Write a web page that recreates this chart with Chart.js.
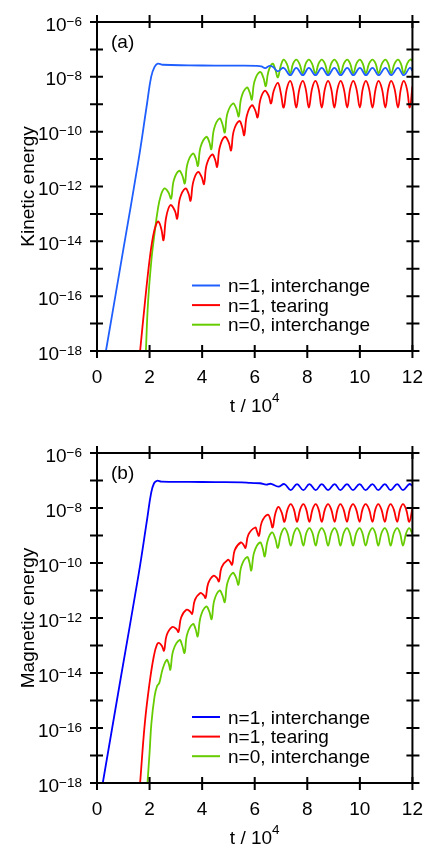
<!DOCTYPE html>
<html>
<script src="https://cdn.jsdelivr.net/npm/chart.js"></script>
<style type="text/css">
  body { margin: 0; background: #fff; }
  .panel { position: absolute; left: 0; }
  canvas { display: block; }
</style>
<body>
  <div class="panel" style="top:0px"><canvas id="kinetic" width="438" height="420"></canvas></div>
  <div class="panel" style="top:420px"><canvas id="magnetic" width="438" height="425"></canvas></div>

  <script>
    // values are [t / 10^4, log10(energy)]
    const seriesLabels = ['n=1, interchange', 'n=1, tearing', 'n=0, interchange'];
    const yExponents = [-18, -17, -16, -15, -14, -13, -12, -11, -10, -9, -8, -7, -6];
    const yLabelExponents = [-18, -16, -14, -12, -10, -8, -6];

    // (a) kinetic energy
    const kineticN1Interchange = [[0.34,-18],[1.0,-14.3],[1.58,-11.04],[1.9,-9.0],[2.06,-8.0],[2.19,-7.64],[2.31,-7.52],[2.5,-7.56],[3.5,-7.58],[4.5,-7.59],[5.5,-7.59],[6.08,-7.6],[6.25,-7.62],[6.4,-7.68],[6.56,-7.6],[6.7,-7.64],[6.88,-7.8],[7.1,-7.67],[7.35,-7.94],[7.58,-7.67],[7.83,-7.94],[8.06,-7.67],[8.31,-7.94],[8.55,-7.67],[8.79,-7.94],[9.03,-7.67],[9.27,-7.94],[9.52,-7.67],[9.75,-7.94],[10.0,-7.67],[10.23,-7.94],[10.48,-7.67],[10.71,-7.94],[10.97,-7.67],[11.19,-7.94],[11.45,-7.67],[11.67,-7.94],[11.9,-7.67],[12.0,-7.78]];
    const kineticN1Tearing = [[1.64,-18],[1.82,-16.26],[2.0,-14.68],[2.13,-13.83],[2.25,-13.38],[2.34,-13.28],[2.45,-13.56],[2.53,-13.96],[2.63,-13.13],[2.79,-12.68],[2.96,-12.88],[3.05,-13.17],[3.15,-12.45],[3.36,-12.07],[3.48,-12.25],[3.56,-12.52],[3.66,-11.84],[3.84,-11.47],[3.98,-11.65],[4.07,-11.91],[4.17,-11.21],[4.38,-10.83],[4.49,-11.01],[4.57,-11.28],[4.67,-10.57],[4.86,-10.19],[5.01,-10.39],[5.1,-10.68],[5.2,-9.98],[5.41,-9.61],[5.52,-9.82],[5.6,-10.13],[5.7,-9.42],[5.89,-9.04],[6.02,-9.22],[6.11,-9.48],[6.21,-8.85],[6.38,-8.51],[6.53,-8.69],[6.62,-8.97],[6.72,-8.52],[6.88,-8.22],[6.99,-8.58],[7.1,-9.12],[7.22,-8.44],[7.35,-8.15],[7.46,-8.44],[7.58,-9.12],[7.7,-8.44],[7.83,-8.15],[7.94,-8.44],[8.06,-9.12],[8.18,-8.44],[8.31,-8.15],[8.43,-8.44],[8.55,-9.12],[8.67,-8.44],[8.79,-8.15],[8.91,-8.44],[9.03,-9.12],[9.15,-8.44],[9.27,-8.15],[9.39,-8.44],[9.52,-9.12],[9.63,-8.44],[9.75,-8.15],[9.87,-8.44],[10.0,-9.12],[10.11,-8.44],[10.23,-8.15],[10.35,-8.44],[10.48,-9.12],[10.6,-8.44],[10.71,-8.15],[10.84,-8.44],[10.97,-9.12],[11.08,-8.44],[11.19,-8.15],[11.32,-8.44],[11.45,-9.12],[11.56,-8.44],[11.67,-8.15],[11.79,-8.44],[11.9,-9.12],[12.0,-8.35]];
    const kineticN0Interchange = [[1.86,-18],[1.94,-16.26],[2.07,-14.68],[2.19,-13.71],[2.31,-12.86],[2.43,-12.32],[2.57,-12.07],[2.72,-12.22],[2.82,-12.44],[2.92,-11.78],[3.12,-11.43],[3.25,-11.61],[3.34,-11.89],[3.44,-11.18],[3.65,-10.8],[3.76,-10.98],[3.84,-11.25],[3.94,-10.56],[4.16,-10.19],[4.27,-10.37],[4.35,-10.64],[4.45,-9.91],[4.66,-9.52],[4.77,-9.72],[4.86,-10.03],[4.96,-9.34],[5.17,-8.97],[5.3,-9.16],[5.39,-9.44],[5.49,-8.76],[5.7,-8.39],[5.81,-8.57],[5.89,-8.83],[5.99,-8.17],[6.2,-7.82],[6.33,-8.03],[6.42,-8.34],[6.52,-7.81],[6.68,-7.52],[6.78,-7.72],[6.88,-8.02],[6.99,-7.6],[7.1,-7.37],[7.22,-7.52],[7.35,-7.87],[7.46,-7.52],[7.58,-7.37],[7.7,-7.52],[7.83,-7.87],[7.94,-7.52],[8.06,-7.37],[8.18,-7.52],[8.31,-7.87],[8.43,-7.52],[8.55,-7.37],[8.67,-7.52],[8.79,-7.87],[8.91,-7.52],[9.03,-7.37],[9.15,-7.52],[9.27,-7.87],[9.39,-7.52],[9.52,-7.37],[9.63,-7.52],[9.75,-7.87],[9.87,-7.52],[10.0,-7.37],[10.11,-7.52],[10.23,-7.87],[10.35,-7.52],[10.48,-7.37],[10.6,-7.52],[10.71,-7.87],[10.84,-7.52],[10.97,-7.37],[11.08,-7.52],[11.19,-7.87],[11.32,-7.52],[11.45,-7.37],[11.56,-7.52],[11.67,-7.87],[11.8,-7.52],[11.92,-7.37],[12.0,-7.42]];

    // (b) magnetic energy
    const magneticN1Interchange = [[0.22,-18],[0.9,-14.2],[1.58,-10.43],[1.9,-8.45],[2.06,-7.45],[2.17,-7.1],[2.28,-7.01],[2.45,-7.04],[3.5,-7.05],[4.5,-7.06],[5.5,-7.07],[5.85,-7.09],[6.2,-7.1],[6.44,-7.15],[6.62,-7.12],[6.9,-7.22],[7.13,-7.13],[7.37,-7.35],[7.61,-7.13],[7.85,-7.35],[8.08,-7.13],[8.32,-7.35],[8.55,-7.13],[8.79,-7.35],[9.04,-7.13],[9.26,-7.35],[9.51,-7.13],[9.74,-7.35],[9.99,-7.13],[10.22,-7.35],[10.48,-7.13],[10.7,-7.35],[10.95,-7.13],[11.17,-7.35],[11.42,-7.13],[11.64,-7.35],[11.88,-7.13],[12.0,-7.2]];
    const magneticN1Tearing = [[1.64,-18],[1.82,-15.82],[2.0,-14.36],[2.16,-13.4],[2.28,-12.97],[2.37,-12.91],[2.47,-13.02],[2.55,-13.19],[2.65,-12.63],[2.86,-12.33],[3.02,-12.4],[3.1,-12.51],[3.2,-11.98],[3.4,-11.7],[3.54,-11.76],[3.62,-11.85],[3.72,-11.36],[3.93,-11.09],[4.05,-11.16],[4.13,-11.27],[4.23,-10.74],[4.43,-10.46],[4.56,-10.54],[4.64,-10.67],[4.74,-10.16],[4.98,-9.88],[5.06,-9.95],[5.14,-10.06],[5.24,-9.53],[5.47,-9.25],[5.57,-9.33],[5.65,-9.45],[5.76,-8.97],[6.02,-8.71],[6.08,-8.83],[6.16,-9.01],[6.27,-8.51],[6.5,-8.24],[6.6,-8.43],[6.68,-8.71],[6.78,-8.22],[6.9,-7.96],[7.03,-8.18],[7.13,-8.5],[7.25,-8.05],[7.37,-7.86],[7.49,-8.05],[7.61,-8.5],[7.73,-8.05],[7.85,-7.86],[7.96,-8.05],[8.08,-8.5],[8.2,-8.05],[8.32,-7.86],[8.43,-8.05],[8.55,-8.5],[8.67,-8.05],[8.79,-7.86],[8.91,-8.05],[9.04,-8.5],[9.15,-8.05],[9.26,-7.86],[9.38,-8.05],[9.51,-8.5],[9.62,-8.05],[9.74,-7.86],[9.86,-8.05],[9.99,-8.5],[10.1,-8.05],[10.22,-7.86],[10.35,-8.05],[10.48,-8.5],[10.59,-8.05],[10.7,-7.86],[10.82,-8.05],[10.95,-8.5],[11.06,-8.05],[11.17,-7.86],[11.29,-8.05],[11.42,-8.5],[11.53,-8.05],[11.64,-7.86],[11.76,-8.05],[11.88,-8.5],[12.0,-8.0]];
    const magneticN0Interchange = [[1.92,-18],[2.0,-16.9],[2.07,-15.82],[2.19,-14.85],[2.28,-14.49],[2.37,-14.36],[2.49,-13.88],[2.65,-13.52],[2.73,-13.66],[2.79,-13.88],[2.9,-13.18],[3.14,-12.8],[3.24,-12.99],[3.33,-13.27],[3.43,-12.59],[3.65,-12.22],[3.75,-12.4],[3.83,-12.67],[3.94,-11.96],[4.15,-11.58],[4.27,-11.76],[4.36,-12.04],[4.46,-11.36],[4.66,-11.0],[4.77,-11.17],[4.86,-11.42],[4.96,-10.73],[5.16,-10.36],[5.29,-10.53],[5.38,-10.79],[5.49,-10.13],[5.71,-9.78],[5.8,-9.98],[5.87,-10.27],[5.98,-9.61],[6.2,-9.25],[6.3,-9.45],[6.38,-9.76],[6.49,-9.19],[6.66,-8.89],[6.78,-9.11],[6.88,-9.45],[6.99,-8.98],[7.13,-8.73],[7.25,-8.92],[7.37,-9.37],[7.49,-8.92],[7.61,-8.73],[7.73,-8.92],[7.85,-9.37],[7.96,-8.92],[8.08,-8.73],[8.2,-8.92],[8.32,-9.37],[8.43,-8.92],[8.55,-8.73],[8.67,-8.92],[8.79,-9.37],[8.91,-8.92],[9.04,-8.73],[9.15,-8.92],[9.26,-9.37],[9.38,-8.92],[9.51,-8.73],[9.62,-8.92],[9.74,-9.37],[9.86,-8.92],[9.99,-8.73],[10.1,-8.92],[10.22,-9.37],[10.35,-8.92],[10.48,-8.73],[10.59,-8.92],[10.7,-9.37],[10.82,-8.92],[10.95,-8.73],[11.06,-8.92],[11.17,-9.37],[11.29,-8.92],[11.42,-8.73],[11.53,-8.92],[11.64,-9.37],[11.76,-8.92],[11.88,-8.73],[12.0,-8.95]];

    const FONT = '"Liberation Sans", Arial, Helvetica, sans-serif';
    const MAIN = 19, SUP = 13.5;

    function drawPower(ctx, base, exp, x, yBase, yExp, align) {
      ctx.font = MAIN + 'px ' + FONT;
      const bw = ctx.measureText(base).width;
      ctx.font = SUP + 'px ' + FONT;
      const ew = ctx.measureText(exp).width;
      let left = x;
      if (align === 'right') left = x - bw - ew;
      if (align === 'center') left = x - (bw + ew) / 2;
      ctx.textAlign = 'left';
      ctx.textBaseline = 'alphabetic';
      ctx.font = MAIN + 'px ' + FONT;
      ctx.fillText(base, left, yBase);
      ctx.font = SUP + 'px ' + FONT;
      ctx.fillText(exp, left + bw, yExp);
    }

    // box with ticks crossing every side, 10^n labels, titles, legend
    const framePlugin = {
      id: 'frame',
      afterDatasetsDraw(chart, args, opt) {
        const { ctx, chartArea: a } = chart;
        const xs = chart.scales.x, ys = chart.scales.y;
        ctx.save();
        ctx.strokeStyle = '#000';
        ctx.lineWidth = 2;
        ctx.strokeRect(a.left, a.top, a.right - a.left, a.bottom - a.top);
        ctx.beginPath();
        xs.ticks.forEach(t => {
          const px = xs.getPixelForValue(t.value);
          ctx.moveTo(px, a.bottom + 7); ctx.lineTo(px, a.bottom - 6);
          ctx.moveTo(px, a.top - 7); ctx.lineTo(px, a.top + 6);
        });
        ys.ticks.forEach(t => {
          const py = ys.getPixelForValue(t.value);
          ctx.moveTo(a.left - 7, py); ctx.lineTo(a.left + 6, py);
          ctx.moveTo(a.right - 6, py); ctx.lineTo(a.right + 7, py);
        });
        ctx.stroke();

        ctx.fillStyle = '#000';
        yLabelExponents.forEach(e => {
          const py = ys.getPixelForValue(10 ** e);
          drawPower(ctx, '10', '\u2212' + Math.abs(e), a.left - 15, py + 8.5, py + 3.5, 'right');
        });

        const tb = a.bottom + 60.5;
        drawPower(ctx, 't / 10', '4', (a.left + a.right) / 2, tb, tb - 9.5, 'center');

        ctx.save();
        ctx.translate(34, (a.top + a.bottom) / 2);
        ctx.rotate(-Math.PI / 2);
        ctx.textAlign = 'center';
        ctx.textBaseline = 'alphabetic';
        ctx.font = MAIN + 'px ' + FONT;
        ctx.fillText(opt.yTitle, 0, 0);
        ctx.restore();

        ctx.font = MAIN + 'px ' + FONT;
        ctx.textAlign = 'left';
        ctx.fillText(opt.tag, 111, a.top + 26);

        chart.data.datasets.forEach((ds, i) => {
          const ly = opt.legendTop + i * 19.6;
          ctx.strokeStyle = ds.borderColor;
          ctx.lineWidth = 2;
          ctx.beginPath();
          ctx.moveTo(192, ly); ctx.lineTo(220, ly);
          ctx.stroke();
          ctx.fillText(ds.label, 228, ly + 6.5);
        });
        ctx.restore();
      }
    };

    const toPoints = pairs => pairs.map(([t, e]) => ({ x: t, y: 10 ** e }));

    function makeChart(id, series, colors, opt) {
      return new Chart(document.getElementById(id).getContext('2d'), {
        type: 'line',
        data: {
          datasets: series.map((s, i) => ({
            label: seriesLabels[i],
            data: toPoints(s),
            borderColor: colors[i],
            borderWidth: 1.8,
            pointRadius: 0,
            tension: 0.4,
            fill: false
          }))
        },
        options: {
          responsive: false,
          animation: false,
          devicePixelRatio: 1,
          layout: { padding: { top: opt.padTop, right: 12, left: 0, bottom: 0 } },
          plugins: {
            legend: { display: false },
            tooltip: { enabled: false },
            frame: opt
          },
          scales: {
            x: {
              type: 'linear', min: 0, max: 12,
              ticks: { stepSize: 2, color: '#000', font: { family: FONT, size: MAIN }, padding: 15, maxRotation: 0 },
              grid: { display: false, drawTicks: false },
              border: { display: false },
              afterFit: s => { s.height = opt.xHeight; }
            },
            y: {
              type: 'logarithmic', min: 1e-18, max: 1e-6,
              afterBuildTicks: s => { s.ticks = yExponents.map(e => ({ value: 10 ** e })); },
              ticks: { display: false },
              grid: { display: false, drawTicks: false },
              border: { display: false },
              afterFit: s => { s.width = 97; }
            }
          }
        },
        plugins: [framePlugin]
      });
    }

    makeChart('kinetic',
      [kineticN1Interchange, kineticN1Tearing, kineticN0Interchange],
      ['#1f5fff', '#ff0000', '#66cc00'],
      { tag: '(a)', yTitle: 'Kinetic energy', legendTop: 285.5, padTop: 22, xHeight: 69 });

    makeChart('magnetic',
      [magneticN1Interchange, magneticN1Tearing, magneticN0Interchange],
      ['#0000ff', '#ff0000', '#66cc00'],
      { tag: '(b)', yTitle: 'Magnetic energy', legendTop: 297, padTop: 33, xHeight: 62 });
  </script>
</body>
</html>
